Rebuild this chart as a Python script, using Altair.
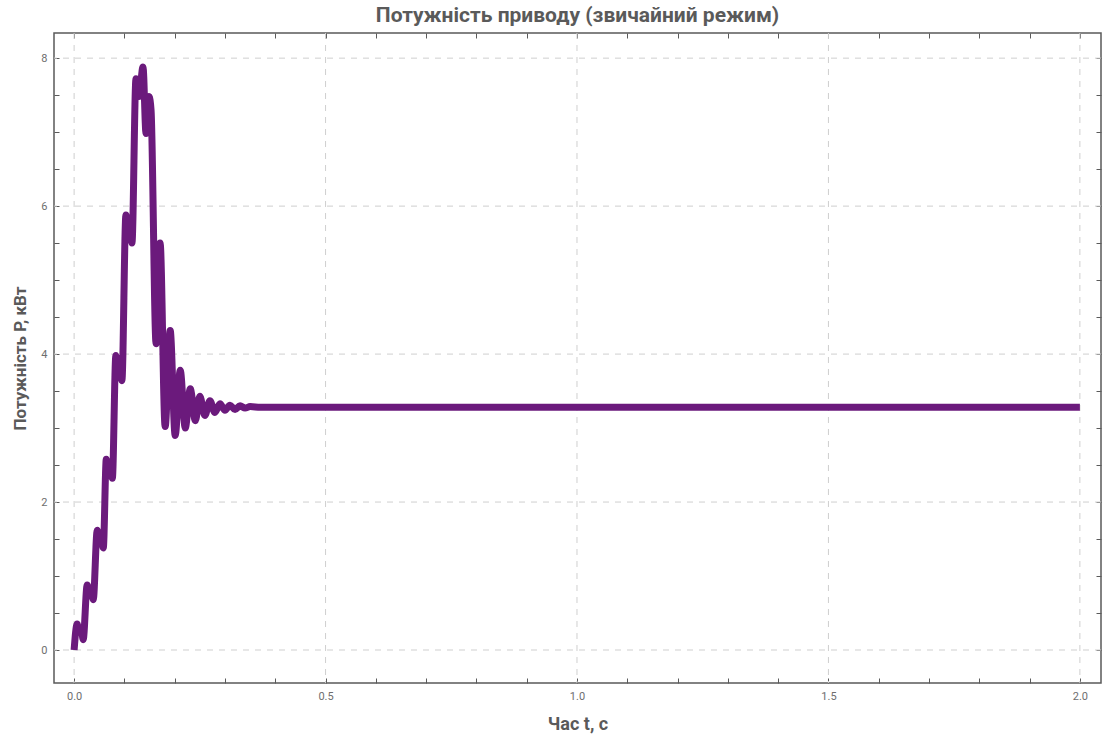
import altair as alt
import pandas as pd

# time, s
t_vals = [0.000, 0.006, 0.010, 0.014, 0.018, 0.026, 0.030, 0.034, 0.038,
          0.046, 0.050, 0.054, 0.058, 0.064, 0.068, 0.072, 0.076,
          0.083, 0.087, 0.091, 0.095, 0.103, 0.107, 0.111, 0.115,
          0.123, 0.129, 0.137, 0.143, 0.149, 0.153, 0.163, 0.171,
          0.181, 0.191, 0.201, 0.211, 0.221, 0.231, 0.241, 0.250,
          0.260, 0.270, 0.280, 0.290, 0.300, 0.310, 0.320, 0.330,
          0.340, 0.350, 0.370, 2.000]
# power, kW
p_vals = [0.00, 0.35, 0.24, 0.30, 0.14, 0.88, 0.76, 0.84, 0.68,
          1.62, 1.46, 1.54, 1.38, 2.58, 2.40, 2.50, 2.32,
          3.98, 3.76, 3.86, 3.64, 5.88, 5.60, 5.74, 5.50,
          7.72, 7.48, 7.88, 6.98, 7.48, 7.30, 4.14, 5.50,
          3.02, 4.32, 2.90, 3.78, 3.00, 3.53, 3.10, 3.43,
          3.17, 3.37, 3.21, 3.33, 3.24, 3.31, 3.25, 3.30,
          3.27, 3.29, 3.28, 3.28]

x_grid = [0.0, 0.5, 1.0, 1.5, 2.0]
y_grid = [0, 2, 4, 6, 8]
x_tick_vals = [round(i * 0.1, 1) for i in range(21)]
y_tick_vals = [i * 0.5 for i in range(17)]

df = pd.DataFrame({"t": t_vals, "P": p_vals})
gx = pd.DataFrame({"v": x_grid})
gy = pd.DataFrame({"v": y_grid})

FONT = "Roboto"
GREY = "#5a5a5a"
LABEL_GREY = "#6e6e6e"
x_scale = alt.Scale(domain=[-0.040, 2.042], nice=False, zero=False)
y_scale = alt.Scale(domain=[-0.446, 8.34], nice=False, zero=False)

grid_x = alt.Chart(gx).mark_rule(color="#cfcfcf", strokeDash=[6, 6], strokeWidth=1).encode(
    x=alt.X("v:Q", scale=x_scale, axis=None)
)
grid_y = alt.Chart(gy).mark_rule(color="#cfcfcf", strokeDash=[6, 6], strokeWidth=1).encode(
    y=alt.Y("v:Q", scale=y_scale, axis=None)
)

x_label_expr = "abs(datum.value*2 - round(datum.value*2)) < 0.001 ? format(datum.value, '.1f') : ''"
y_label_expr = "abs(datum.value/2 - round(datum.value/2)) < 0.001 ? format(datum.value, 'd') : ''"

line = alt.Chart(df).mark_line(
    color="#6B1A7C", strokeWidth=7, interpolate="monotone", strokeJoin="round"
).encode(
    x=alt.X("t:Q", scale=x_scale, title="Час t, с",
            axis=alt.Axis(values=x_tick_vals, labelExpr=x_label_expr, grid=False, domain=False,
                          tickSize=5, offset=-5, tickColor=GREY, labelPadding=7,
                          labelFont=FONT, labelFontSize=11, labelColor=LABEL_GREY,
                          titleFont=FONT, titleFontSize=18, titleFontWeight="bold",
                          titleColor=GREY, titlePadding=14, labelFlush=False)),
    y=alt.Y("P:Q", scale=y_scale, title="Потужність P, кВт",
            axis=alt.Axis(values=y_tick_vals, labelExpr=y_label_expr, grid=False, domain=False,
                          tickSize=5, offset=-5, tickColor=GREY, labelPadding=7,
                          labelFont=FONT, labelFontSize=11, labelColor=LABEL_GREY,
                          titleFont=FONT, titleFontSize=17, titleFontWeight="bold",
                          titleColor=GREY, titlePadding=11, labelFlush=False)),
)

frame_axes = alt.Chart(df).mark_line(opacity=0).encode(
    x=alt.X("t:Q", scale=x_scale, title=None,
            axis=alt.Axis(orient="top", values=x_tick_vals, labels=False, grid=False,
                          domain=False, tickSize=5, offset=-5, tickColor=GREY)),
    y=alt.Y("P:Q", scale=y_scale, title=None,
            axis=alt.Axis(orient="right", values=y_tick_vals, labels=False, grid=False,
                          domain=False, tickSize=5, offset=-5, tickColor=GREY)),
)

chart = alt.layer(grid_x, grid_y, line, frame_axes).resolve_axis(
    x="independent", y="independent"
).properties(
    width=1047,
    height=650,
    padding={"left": 54, "top": 33, "right": 3, "bottom": 53},
    autosize=alt.AutoSizeParams(type="none"),
    background="white",
    title=alt.TitleParams("Потужність приводу (звичайний режим)", font=FONT, fontSize=21,
                          fontWeight="bold", color=GREY, offset=7, anchor="middle"),
).configure_view(stroke=GREY, strokeWidth=1.5)

chart.save("out.html", embed_options={"renderer": "svg", "actions": False})
